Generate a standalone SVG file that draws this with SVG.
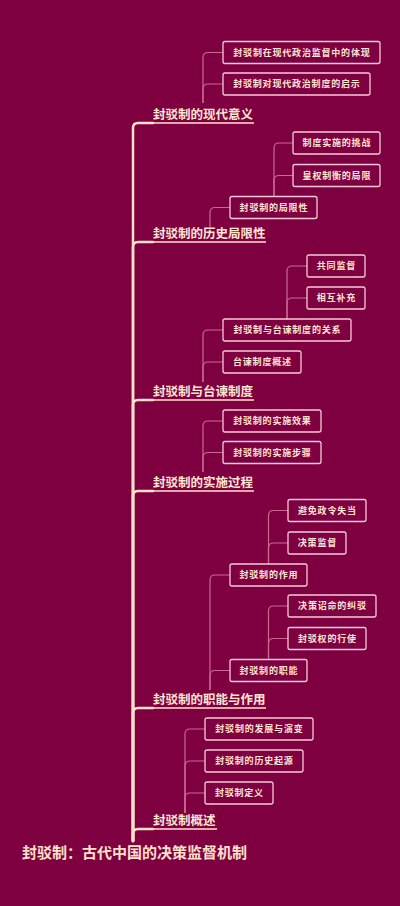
<svg xmlns="http://www.w3.org/2000/svg" width="400" height="906" viewBox="0 0 400 906">
<style>
.trunk{fill:none;stroke:#FFE2C8;stroke-width:2.5;stroke-linecap:round}
.ul{fill:none;stroke:#FFE2C8;stroke-width:1.5}
.sub{fill:none;stroke:#C96A92;stroke-width:1.2}
.box{fill:#7E0041;stroke:#F6CAD6;stroke-width:1.3}
.bt{font-family:"Noto Sans CJK SC","Noto Sans",sans-serif;font-size:9px;font-weight:700;fill:#FFE4D2;letter-spacing:0.8px;text-anchor:middle}
.tt{font-family:"Noto Sans CJK SC","Noto Sans",sans-serif;font-size:12.5px;font-weight:700;fill:#FFE6D0}
.rt{font-family:"Noto Sans CJK SC","Noto Sans",sans-serif;font-size:15px;font-weight:700;fill:#FFE0C8}
</style>
<rect width="400" height="906" fill="#7E0041"/>
<g id="connectors">
<path class="trunk" d="M133,841 V128 Q133,123 138,123 H153"/>
<path class="trunk" d="M133,841 V247 Q133,242 138,242 H153"/>
<path class="trunk" d="M133,841 V405 Q133,400 138,400 H153"/>
<path class="trunk" d="M133,841 V496 Q133,491 138,491 H153"/>
<path class="trunk" d="M133,841 V713 Q133,708 138,708 H153"/>
<path class="trunk" d="M133,841 V834 Q133,829 138,829 H153"/>
<path class="sub" d="M203,103 V57.5 Q203,52.5 208,52.5 H223"/>
<path class="sub" d="M203,103 V89 Q203,84 208,84 H223"/>
<path class="sub" d="M210,227 V212.5 Q210,207.5 215,207.5 H230"/>
<path class="sub" d="M274,196.5 V148 Q274,143 279,143 H293"/>
<path class="sub" d="M274,196.5 V180.5 Q274,175.5 279,175.5 H293"/>
<path class="sub" d="M203,382 V335 Q203,330 208,330 H223"/>
<path class="sub" d="M203,382 V367 Q203,362 208,362 H223"/>
<path class="sub" d="M287,319 V271 Q287,266 292,266 H307"/>
<path class="sub" d="M287,319 V303 Q287,298 292,298 H307"/>
<path class="sub" d="M203,472 V426 Q203,421 208,421 H223"/>
<path class="sub" d="M203,472 V457.5 Q203,452.5 208,452.5 H223"/>
<path class="sub" d="M210,690 V580 Q210,575 215,575 H230"/>
<path class="sub" d="M210,690 V675.5 Q210,670.5 215,670.5 H230"/>
<path class="sub" d="M268.5,564 V515.5 Q268.5,510.5 273.5,510.5 H288"/>
<path class="sub" d="M268.5,564 V548 Q268.5,543 273.5,543 H288"/>
<path class="sub" d="M268.5,659.5 V611 Q268.5,606 273.5,606 H288"/>
<path class="sub" d="M268.5,659.5 V643.5 Q268.5,638.5 273.5,638.5 H288"/>
<path class="sub" d="M185,813 V734 Q185,729 190,729 H205"/>
<path class="sub" d="M185,813 V766 Q185,761 190,761 H205"/>
<path class="sub" d="M185,813 V798 Q185,793 190,793 H205"/>
</g>
<g id="root"><text class="rt" x="22" y="858">封驳制：古代中国的决策监督机制</text></g>
<g id="t1"><text class="tt" x="153" y="119">封驳制的现代意义</text><line class="ul" x1="153" y1="123" x2="254" y2="123"/></g>
<g id="t1a"><rect class="box" x="223" y="41.5" width="157" height="22" rx="2"/><text class="bt" x="301.9" y="55.8">封驳制在现代政治监督中的体现</text></g>
<g id="t1b"><rect class="box" x="223" y="73" width="147" height="22" rx="2"/><text class="bt" x="296.9" y="87.3">封驳制对现代政治制度的启示</text></g>
<g id="t2"><text class="tt" x="153" y="238">封驳制的历史局限性</text><line class="ul" x1="153" y1="242" x2="266" y2="242"/></g>
<g id="t2a"><rect class="box" x="230" y="196.5" width="87" height="22" rx="2"/><text class="bt" x="273.9" y="210.8">封驳制的局限性</text></g>
<g id="t2a1"><rect class="box" x="293" y="132" width="87" height="22" rx="2"/><text class="bt" x="336.9" y="146.3">制度实施的挑战</text></g>
<g id="t2a2"><rect class="box" x="293" y="164.5" width="87" height="22" rx="2"/><text class="bt" x="336.9" y="178.8">皇权制衡的局限</text></g>
<g id="t3"><text class="tt" x="153" y="396">封驳制与台谏制度</text><line class="ul" x1="153" y1="400" x2="254" y2="400"/></g>
<g id="t3a"><rect class="box" x="223" y="319" width="128" height="22" rx="2"/><text class="bt" x="287.4" y="333.3">封驳制与台谏制度的关系</text></g>
<g id="t3b"><rect class="box" x="223" y="351" width="78" height="22" rx="2"/><text class="bt" x="262.4" y="365.3">台谏制度概述</text></g>
<g id="t3a1"><rect class="box" x="307" y="255" width="58" height="22" rx="2"/><text class="bt" x="336.4" y="269.3">共同监督</text></g>
<g id="t3a2"><rect class="box" x="307" y="287" width="58" height="22" rx="2"/><text class="bt" x="336.4" y="301.3">相互补充</text></g>
<g id="t4"><text class="tt" x="153" y="487">封驳制的实施过程</text><line class="ul" x1="153" y1="491" x2="254" y2="491"/></g>
<g id="t4a"><rect class="box" x="223" y="410" width="98" height="22" rx="2"/><text class="bt" x="272.4" y="424.3">封驳制的实施效果</text></g>
<g id="t4b"><rect class="box" x="223" y="441.5" width="98" height="22" rx="2"/><text class="bt" x="272.4" y="455.8">封驳制的实施步骤</text></g>
<g id="t5"><text class="tt" x="153" y="704">封驳制的职能与作用</text><line class="ul" x1="153" y1="708" x2="266" y2="708"/></g>
<g id="t5a"><rect class="box" x="230" y="564" width="77" height="22" rx="2"/><text class="bt" x="268.9" y="578.3">封驳制的作用</text></g>
<g id="t5a1"><rect class="box" x="288" y="499.5" width="78" height="22" rx="2"/><text class="bt" x="327.4" y="513.8">避免政令失当</text></g>
<g id="t5a2"><rect class="box" x="288" y="532" width="58" height="22" rx="2"/><text class="bt" x="317.4" y="546.3">决策监督</text></g>
<g id="t5b"><rect class="box" x="230" y="659.5" width="77" height="22" rx="2"/><text class="bt" x="268.9" y="673.8">封驳制的职能</text></g>
<g id="t5b1"><rect class="box" x="288" y="595" width="88" height="22" rx="2"/><text class="bt" x="332.4" y="609.3">决策诏命的纠驳</text></g>
<g id="t5b2"><rect class="box" x="288" y="627.5" width="78" height="22" rx="2"/><text class="bt" x="327.4" y="641.8">封驳权的行使</text></g>
<g id="t6"><text class="tt" x="153" y="825">封驳制概述</text><line class="ul" x1="153" y1="829" x2="217" y2="829"/></g>
<g id="t6a"><rect class="box" x="205" y="718" width="108" height="22" rx="2"/><text class="bt" x="259.4" y="732.3">封驳制的发展与演变</text></g>
<g id="t6b"><rect class="box" x="205" y="750" width="98" height="22" rx="2"/><text class="bt" x="254.4" y="764.3">封驳制的历史起源</text></g>
<g id="t6c"><rect class="box" x="205" y="782" width="68" height="22" rx="2"/><text class="bt" x="239.4" y="796.3">封驳制定义</text></g>
</svg>
